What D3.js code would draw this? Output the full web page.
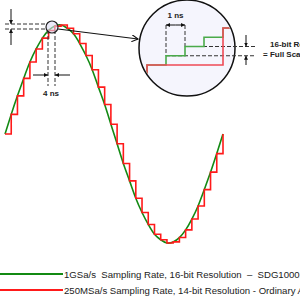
<!DOCTYPE html>
<html lang="en">
<head>
<meta charset="UTF-8">
<title></title>
<style type="text/css">
  html, body { padding:0; margin:0; background:#fff; }
  text { font-family: "Liberation Sans", Arial, sans-serif; white-space: pre; }
</style>
</head>
<body>
<script src="https://cdn.jsdelivr.net/npm/d3@7/dist/d3.min.js"></script>
<script>
// one period of the wave, 250MSa/s samples (4 ns apart), full scale = 1
var sampleIndex = d3.range(36);
var sampleValues = [0, 0.18, 0.35, 0.51, 0.66, 0.78, 0.88, 0.95, 0.99, 1.00,
                    0.97, 0.92, 0.83, 0.72, 0.59, 0.43, 0.27, 0.09, -0.09, -0.27,
                    -0.43, -0.59, -0.72, -0.83, -0.92, -0.97, -1.00, -0.99, -0.95, -0.88,
                    -0.78, -0.66, -0.51, -0.35, -0.18, 0];

// zoomed inset: time in ns, level in 16-bit LSB
var insetTimes  = [-1, 0, 1, 2, 3, 4, 5];
var greenLevels = [-1, 0, 1, 2, 3, 4, 4];
var redLevels   = [-4, 0, 0, 0, 0, 4, 4];

var legendLabels = ["1GSa/s  Sampling Rate, 16-bit Resolution  \u2013  SDG1000X Plus",
                    "250MSa/s Sampling Rate, 14-bit Resolution - Ordinary AWG"];
var legendColors = ["#138a13", "#ff1a1a"];

var chart = {};

chart.options = { width: 300, height: 300 };

chart.init = function() {
    var svg = d3.select('body').append('svg')
        .attr('width', this.options.width)
        .attr('height', this.options.height);
    this.svg = svg;

    var defs = svg.append('defs');
    defs.append('marker')
        .attr('id', 'tri')
        .attr('viewBox', '0 0 10 10')
        .attr('refX', 10).attr('refY', 5)
        .attr('markerWidth', 4).attr('markerHeight', 4)
        .attr('markerUnits', 'userSpaceOnUse')
        .attr('orient', 'auto')
      .append('path').attr('d', 'M0,0L10,5L0,10Z').attr('fill', '#111');
    defs.append('marker')
        .attr('id', 'open')
        .attr('viewBox', '0 0 10 10')
        .attr('refX', 9).attr('refY', 5)
        .attr('markerWidth', 7).attr('markerHeight', 7)
        .attr('markerUnits', 'userSpaceOnUse')
        .attr('orient', 'auto')
      .append('path').attr('d', 'M0,0L9,5L0,10').attr('fill', 'none')
        .attr('stroke', '#111').attr('stroke-width', 1.5);
    defs.append('clipPath').attr('id', 'lens')
      .append('circle').attr('cx', 187).attr('cy', 48).attr('r', 47);

    this.renderWave();
    this.renderDims();
    this.renderInset();
    this.renderLegend();
};

chart.renderWave = function() {
    var x = d3.scaleLinear().domain([0, 35]).range([5, 223]),
        y = d3.scaleLinear().domain([-1, 1]).range([243, 25]);

    var smooth = d3.line()
        .x(function(d) { return x(d); })
        .y(function(d) { return y(sampleValues[d]); })
        .curve(d3.curveNatural);
    var steps = d3.line()
        .x(function(d) { return x(d); })
        .y(function(d) { return y(sampleValues[d]); })
        .curve(d3.curveStepAfter);

    this.svg.append('path').attr('d', smooth(sampleIndex))
        .attr('fill', 'none').attr('stroke', legendColors[0]).attr('stroke-width', 1.6);
    this.svg.append('path').attr('d', steps(sampleIndex))
        .attr('fill', 'none').attr('stroke', legendColors[1]).attr('stroke-width', 1.6);
};

chart.dash = function(x1, y1, x2, y2) {
    this.svg.append('line')
        .attr('x1', x1).attr('y1', y1).attr('x2', x2).attr('y2', y2)
        .attr('stroke', '#333').attr('stroke-width', 1)
        .attr('stroke-dasharray', '4,2');
};

chart.arrow = function(x1, y1, x2, y2) {
    this.svg.append('line')
        .attr('x1', x1).attr('y1', y1).attr('x2', x2).attr('y2', y2)
        .attr('stroke', '#111').attr('stroke-width', 1)
        .attr('marker-end', 'url(#tri)');
};

chart.renderDims = function() {
    var svg = this.svg;
    // 14-bit step height
    this.dash(5, 24, 46, 24);
    this.dash(5, 29, 46, 29);
    this.arrow(11, 9, 11, 24);
    this.arrow(11, 45, 11, 29);
    // 4 ns sample period
    this.dash(48, 30, 48, 86);
    this.dash(55, 30, 55, 86);
    this.arrow(33, 75, 48, 75);
    this.arrow(70, 75, 55, 75);
    svg.append('text').attr('x', 51).attr('y', 96)
        .attr('text-anchor', 'middle').attr('font-size', 8).attr('font-weight', 'bold')
        .attr('fill', '#222').text('4 ns');

    // lens on the curve and pointer
    svg.append('circle').attr('cx', 52).attr('cy', 27).attr('r', 6)
        .attr('fill', '#dcdcf4').attr('fill-opacity', 0.6)
        .attr('stroke', '#222').attr('stroke-width', 1.2);
    svg.append('line').attr('x1', 58).attr('y1', 29).attr('x2', 138).attr('y2', 39)
        .attr('stroke', '#111').attr('stroke-width', 1.2)
        .attr('marker-end', 'url(#open)');
};

chart.renderInset = function() {
    var svg = this.svg;
    var tx = d3.scaleLinear().domain([0, 4]).range([147, 223]),
        ly = d3.scaleLinear().domain([0, 4]).range([65, 28]);

    svg.append('circle').attr('cx', 187).attr('cy', 48).attr('r', 48)
        .attr('fill', '#f5f5fd').attr('stroke', '#111').attr('stroke-width', 1.5);

    // dimension guides
    this.dash(tx(1), 25, tx(1), ly(1));
    this.dash(tx(2), 25, tx(2), ly(2));
    this.dash(tx(1), ly(1), 256, ly(1));
    this.dash(tx(2), ly(2), 256, ly(2));

    var g = svg.append('g').attr('clip-path', 'url(#lens)');
    var line = function(levels) {
        return d3.line()
            .x(function(d) { return tx(d); })
            .y(function(d, i) { return ly(levels[i]); })
            .curve(d3.curveStepAfter)(insetTimes);
    };
    g.append('path').attr('d', line(greenLevels))
        .attr('fill', 'none').attr('stroke', '#4aaa4a').attr('stroke-width', 1.6);
    g.append('path').attr('d', line(redLevels))
        .attr('fill', 'none').attr('stroke', '#ee4a55').attr('stroke-width', 1.6);

    // 1 ns
    this.arrow(tx(1.5), 25, tx(1), 25);
    this.arrow(tx(1.5), 25, tx(2), 25);
    svg.append('text').attr('x', tx(1.5)).attr('y', 18)
        .attr('text-anchor', 'middle').attr('font-size', 8).attr('font-weight', 'bold')
        .attr('fill', '#222').text('1 ns');

    // 16-bit LSB
    this.arrow(246, 35, 246, ly(2));
    this.arrow(246, 65, 246, ly(1));
    svg.append('text').attr('x', 270).attr('y', 47)
        .attr('font-size', 8).attr('font-weight', 'bold').attr('fill', '#222')
        .text('16-bit Resolution');
    svg.append('text').attr('x', 263).attr('y', 57)
        .attr('font-size', 8).attr('font-weight', 'bold').attr('fill', '#222')
        .text('= Full Scale/65536');
};

chart.renderLegend = function() {
    var rows = this.svg.selectAll('.legend')
        .data(legendLabels).enter().append('g')
        .attr('class', 'legend')
        .attr('transform', function(d, i) { return 'translate(0,' + (274 + i * 16) + ')'; });
    rows.append('line').attr('x1', 0).attr('x2', 63).attr('y1', 0).attr('y2', 0)
        .attr('stroke', function(d, i) { return legendColors[i]; }).attr('stroke-width', 2);
    rows.append('text').attr('x', 64).attr('y', 3.5)
        .attr('font-size', 9.6).attr('fill', '#222')
        .text(function(d) { return d; });
};

chart.init();
</script>
</body>
</html>
